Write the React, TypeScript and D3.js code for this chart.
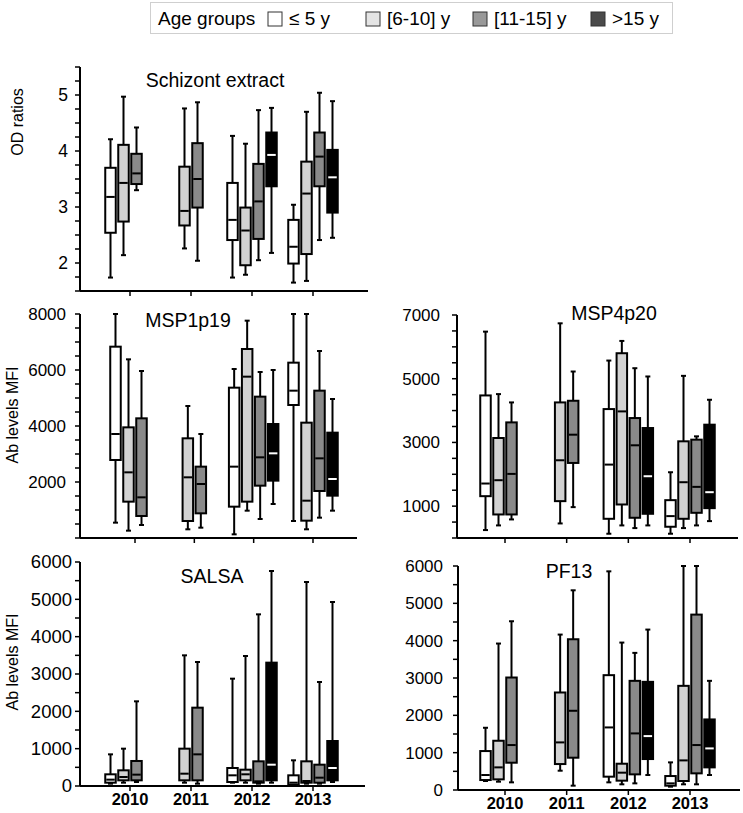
import React from "react";
import * as d3 from "d3";

// ---------- data ----------
const years = ["2010", "2011", "2012", "2013"];
const ageGroups = ["≤ 5 y", "[6-10] y", "[11-15] y", ">15 y"];
const boxFills = ["#ffffff", "#d2d2d2", "#8a8a8a", "#000000"];
const legendFills = ["#ffffff", "#e4e4e4", "#999999", "#4a4a4a"];

// rows: [yearIndex, ageGroupIndex, whiskerLow, Q1, median, Q3, whiskerHigh]
const schizont = [
  [0, 0, 1.74, 2.54, 3.18, 3.7, 4.21],
  [0, 1, 2.14, 2.74, 3.43, 4.11, 4.97],
  [0, 2, 3.3, 3.41, 3.6, 3.95, 4.42],
  [1, 1, 2.26, 2.67, 2.93, 3.72, 4.76],
  [1, 2, 2.04, 2.99, 3.5, 4.14, 4.87],
  [2, 0, 1.74, 2.41, 2.77, 3.43, 4.27],
  [2, 1, 1.79, 1.96, 2.58, 2.99, 4.13],
  [2, 2, 2.05, 2.43, 3.1, 3.77, 4.73],
  [2, 3, 2.18, 3.37, 3.93, 4.33, 4.77],
  [3, 0, 1.65, 1.99, 2.29, 2.77, 3.04],
  [3, 1, 1.68, 2.16, 3.24, 3.81, 4.7],
  [3, 2, 2.41, 3.37, 3.9, 4.33, 5.04],
  [3, 3, 2.45, 2.9, 3.53, 4.02, 4.89],
];

const msp1p19 = [
  [0, 0, 548, 2786, 3714, 6833, 8000],
  [0, 1, 262, 1298, 2345, 3952, 6381],
  [0, 2, 464, 786, 1452, 4274, 5964],
  [1, 1, 310, 607, 2167, 3560, 4714],
  [1, 2, 369, 881, 1928, 2548, 3714],
  [2, 0, 131, 1119, 2548, 5369, 6036],
  [2, 1, 976, 1298, 5762, 6750, 7762],
  [2, 2, 679, 1869, 2881, 5048, 5929],
  [2, 3, 1214, 2048, 3024, 4071, 6000],
  [3, 0, 607, 4750, 5262, 6262, 8000],
  [3, 1, 310, 619, 1333, 4119, 8000],
  [3, 2, 726, 1679, 2845, 5262, 6679],
  [3, 3, 976, 1512, 2107, 3762, 4964],
];

const msp4p20 = [
  [0, 0, 249, 1313, 1710, 4475, 6478],
  [0, 1, 395, 739, 1814, 3139, 4517],
  [0, 2, 583, 739, 2012, 3629, 4256],
  [1, 1, 457, 1157, 2440, 4256, 6739],
  [1, 2, 969, 2356, 3243, 4308, 5226],
  [2, 0, 134, 603, 2304, 4047, 5570],
  [2, 1, 395, 1052, 3974, 5800, 6186],
  [2, 2, 311, 635, 2910, 3765, 5330],
  [2, 3, 395, 760, 1939, 3452, 5070],
  [3, 0, 134, 353, 687, 1188, 2064],
  [3, 1, 311, 603, 1751, 3035, 5090],
  [3, 2, 395, 791, 1605, 3087, 3191],
  [3, 3, 530, 937, 1438, 3557, 4339],
];

const salsa = [
  [0, 0, 62, 89, 170, 313, 848],
  [0, 1, 89, 152, 241, 420, 1000],
  [0, 2, 107, 152, 304, 670, 2268],
  [1, 1, 89, 152, 330, 1000, 3500],
  [1, 2, 62, 152, 848, 2098, 3321],
  [2, 0, 89, 107, 286, 482, 2875],
  [2, 1, 89, 152, 313, 437, 3482],
  [2, 2, 62, 89, 125, 661, 4598],
  [2, 3, 89, 152, 571, 3304, 5759],
  [3, 0, 18, 36, 89, 286, 688],
  [3, 1, 62, 89, 134, 661, 5464],
  [3, 2, 62, 89, 223, 571, 2786],
  [3, 3, 107, 152, 482, 1205, 4929],
];

const pf13 = [
  [0, 0, 241, 267, 401, 1043, 1667],
  [0, 1, 223, 285, 606, 1319, 3923],
  [0, 2, 205, 731, 1204, 3013, 4520],
  [1, 1, 517, 695, 1275, 2612, 4163],
  [1, 2, 116, 865, 2122, 4038, 5349],
  [2, 0, 205, 357, 1676, 3076, 5857],
  [2, 1, 152, 250, 464, 704, 3949],
  [2, 2, 178, 419, 1516, 2924, 3673],
  [2, 3, 401, 829, 1444, 2897, 4297],
  [3, 0, 89, 116, 178, 374, 740],
  [3, 1, 152, 241, 793, 2790, 6000],
  [3, 2, 152, 446, 1204, 4698, 6000],
  [3, 3, 401, 606, 1114, 1890, 2924],
];

const schizontTicks = [2, 3, 4, 5];
const msp1Ticks = [2000, 4000, 6000, 8000];
const msp4Ticks = [1000, 3000, 5000, 7000];
const salsaTicks = [0, 1000, 2000, 3000, 4000, 5000, 6000];
const pf13Ticks = [0, 1000, 2000, 3000, 4000, 5000, 6000];

// ---------- layout ----------
type Panel = {
  title: string;
  titleX: number;
  titleY: number;
  data: number[][];
  yDomain: [number, number];
  yRange: [number, number];
  ticks: number[];
  minorStep: number;
  axisX: number;
  axisEnd: number;
  xFirst: number;
  xLast: number;
  labelGap: number;
  labelSize: number;
  yLabel?: string;
  yLabelX?: number;
  yLabelY?: number;
  showYears: boolean;
};

const panels: Panel[] = [
  {
    title: "Schizont extract", titleX: 215, titleY: 87, data: schizont,
    yDomain: [1.5, 5.5], yRange: [291, 67], ticks: schizontTicks, minorStep: 0.25,
    axisX: 80, axisEnd: 368, xFirst: 130, xLast: 313, labelGap: 12, labelSize: 17.5,
    yLabel: "OD ratios", yLabelX: 23, yLabelY: 122, showYears: false,
  },
  {
    title: "MSP1p19", titleX: 188, titleY: 327, data: msp1p19,
    yDomain: [0, 8000], yRange: [538, 314], ticks: msp1Ticks, minorStep: 500,
    axisX: 80, axisEnd: 357, xFirst: 135, xLast: 313, labelGap: 14, labelSize: 17,
    yLabel: "Ab levels MFI", yLabelX: 18, yLabelY: 415, showYears: false,
  },
  {
    title: "MSP4p20", titleX: 614, titleY: 320, data: msp4p20,
    yDomain: [0, 7000], yRange: [538, 315], ticks: msp4Ticks, minorStep: 500,
    axisX: 457, axisEnd: 738, xFirst: 505, xLast: 690, labelGap: 17, labelSize: 17,
    showYears: false,
  },
  {
    title: "SALSA", titleX: 212, titleY: 583, data: salsa,
    yDomain: [0, 6000], yRange: [786, 562], ticks: salsaTicks, minorStep: 500,
    axisX: 80, axisEnd: 365, xFirst: 130, xLast: 313, labelGap: 8, labelSize: 18.5,
    yLabel: "Ab levels MFI", yLabelX: 18, yLabelY: 662, showYears: true,
  },
  {
    title: "PF13", titleX: 569, titleY: 578, data: pf13,
    yDomain: [0, 6000], yRange: [790, 566], ticks: pf13Ticks, minorStep: 500,
    axisX: 458, axisEnd: 740, xFirst: 505, xLast: 690, labelGap: 15, labelSize: 17,
    showYears: true,
  },
];

const FONT = "'Liberation Sans', Arial, Helvetica, sans-serif";
const SLOT = 13;
const BOX_W = 10.5;
const CAP_W = 5;

function PanelView({ p }: { p: Panel }) {
  const y = d3.scaleLinear().domain(p.yDomain).range(p.yRange);
  const x = d3.scalePoint<string>().domain(years).range([p.xFirst, p.xLast]);
  const [lo, hi] = p.yDomain;
  const minor = d3.range(lo, hi + p.minorStep / 2, p.minorStep);
  const axisBottom = p.yRange[0];

  return (
    <g>
      {/* y axis */}
      <line x1={p.axisX} x2={p.axisX} y1={y(hi)} y2={axisBottom} stroke="#000" strokeWidth={2} />
      {minor.map((v, i) => (
        <line key={"m" + i} x1={p.axisX - 5} x2={p.axisX} y1={y(v)} y2={y(v)} stroke="#000" strokeWidth={1.5} />
      ))}
      {p.ticks.map((v) => (
        <text key={"t" + v} x={p.axisX - p.labelGap} y={y(v)} dy="0.35em" textAnchor="end"
          fontFamily={FONT} fontSize={p.labelSize} fill="#000">{v}</text>
      ))}
      {/* x axis */}
      <line x1={p.axisX} x2={p.axisEnd} y1={axisBottom} y2={axisBottom} stroke="#000" strokeWidth={2} />
      {years.map((yr) => (
        <line key={"xt" + yr} x1={x(yr)} x2={x(yr)} y1={axisBottom} y2={axisBottom + 5} stroke="#000" strokeWidth={1.5} />
      ))}
      {p.showYears && years.map((yr) => (
        <text key={"xl" + yr} x={x(yr)} y={axisBottom + 19} textAnchor="middle"
          fontFamily={FONT} fontSize={16.5} fontWeight="bold" fill="#000">{yr}</text>
      ))}
      {/* title */}
      <text x={p.titleX} y={p.titleY} textAnchor="middle" fontFamily={FONT} fontSize={19.5} fill="#000">{p.title}</text>
      {p.yLabel && (
        <text transform={`translate(${p.yLabelX},${p.yLabelY}) rotate(-90)`}
          textAnchor="middle" fontFamily={FONT} fontSize={16} fill="#000">{p.yLabel}</text>
      )}
      {/* boxes */}
      {p.data.map((r, i) => {
        const [yi, gi, wLo, q1, med, q3, wHi] = r;
        const cx = (x(years[yi]) as number) + (gi - 1.5) * SLOT;
        const medColor = gi === 3 ? "#fff" : "#000";
        return (
          <g key={"b" + i}>
            <line x1={cx} x2={cx} y1={y(wHi)} y2={y(wLo)} stroke="#000" strokeWidth={2} />
            <line x1={cx - CAP_W / 2} x2={cx + CAP_W / 2} y1={y(wHi)} y2={y(wHi)} stroke="#000" strokeWidth={2} />
            <line x1={cx - CAP_W / 2} x2={cx + CAP_W / 2} y1={y(wLo)} y2={y(wLo)} stroke="#000" strokeWidth={2} />
            <rect x={cx - BOX_W / 2} y={y(q3)} width={BOX_W} height={y(q1) - y(q3)}
              fill={boxFills[gi]} stroke="#000" strokeWidth={2} />
            <line x1={cx - BOX_W / 2 + 1} x2={cx + BOX_W / 2 - 1} y1={y(med)} y2={y(med)} stroke={medColor} strokeWidth={2} />
          </g>
        );
      })}
    </g>
  );
}

function Legend() {
  const swatchX = [268, 366, 473, 591];
  return (
    <g>
      <rect x={150.5} y={2.5} width={522} height={31} fill="#fff" stroke="#cfcfcf" strokeWidth={1} />
      <text x={158} y={25} fontFamily={FONT} fontSize={19} fill="#000">Age groups</text>
      {ageGroups.map((g, i) => (
        <g key={g}>
          <rect x={swatchX[i]} y={12} width={14} height={14} fill={legendFills[i]} stroke="#333" strokeWidth={1} />
          <text x={swatchX[i] + 21} y={25} fontFamily={FONT} fontSize={19} fill="#000">{g}</text>
        </g>
      ))}
    </g>
  );
}

export default function App() {
  return (
    <svg width={743} height={813} viewBox="0 0 743 813"
      style={{ position: "absolute", left: 0, top: 0, background: "#fff" }}>
      <rect width={743} height={813} fill="#fff" />
      <Legend />
      {panels.map((p) => (
        <PanelView key={p.title} p={p} />
      ))}
    </svg>
  );
}
